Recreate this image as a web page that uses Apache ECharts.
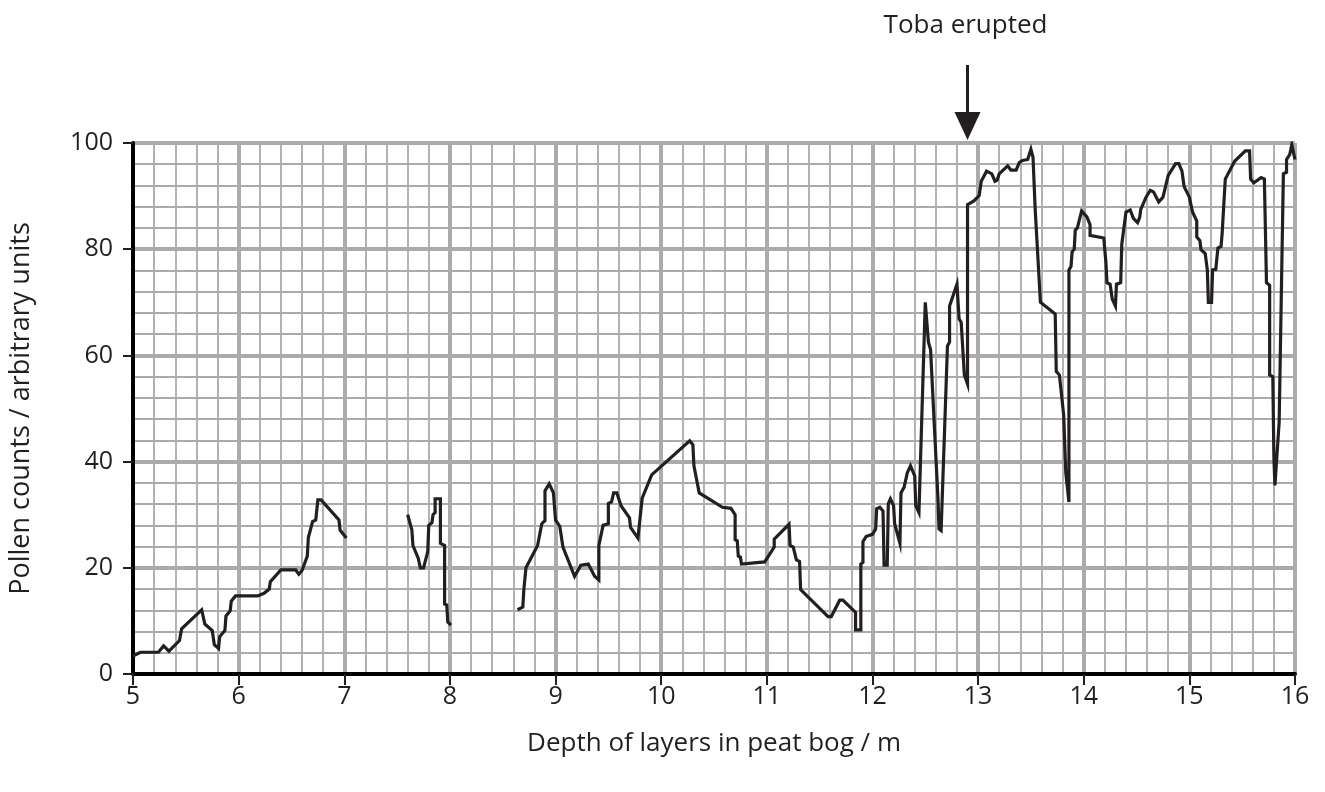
<!DOCTYPE html>
<html>
<head>
<meta charset="utf-8">
<script src="https://cdn.jsdelivr.net/npm/echarts@6/dist/echarts.min.js"></script>
<style>html,body{margin:0;padding:0;background:#fff}#c{width:1325px;height:792px}</style>
</head>
<body>
<div id="c"></div>
<script>
// Depth of layers (m); null marks a gap in the record
const depth = [
5.00,5.07,5.24,5.29,5.34,5.44,5.46,5.65,5.68,5.75,5.77,5.81,5.82,5.87,5.88,5.92,5.93,5.97,6.18,6.24,6.29,6.30,6.40,6.54,6.57,6.60,6.65,6.66,6.70,6.73,6.75,6.78,6.95,6.96,7.02,
null,
7.60,7.64,7.65,7.70,7.72,7.75,7.79,7.80,7.83,7.84,7.86,7.86,7.91,7.91,7.95,7.95,7.97,7.98,8.01,
null,
8.64,8.69,8.70,8.71,8.72,8.83,8.87,8.90,8.90,8.94,8.98,9.00,9.04,9.07,9.18,9.24,9.31,9.37,9.41,9.41,9.45,9.50,9.50,9.53,9.55,9.58,9.62,9.70,9.71,9.78,9.82,9.91,10.27,10.30,10.31,10.36,10.58,10.66,10.70,10.70,10.72,10.73,10.75,10.76,10.98,11.07,11.07,11.21,11.22,11.25,11.28,11.31,11.32,11.58,11.61,11.69,11.72,11.84,11.84,11.89,11.89,11.91,11.91,11.94,12.00,12.03,12.04,12.07,12.10,12.11,12.14,12.15,12.17,12.20,12.21,12.26,12.27,12.30,12.33,12.36,12.40,12.41,12.44,12.50,12.53,12.55,12.62,12.63,12.65,12.71,12.73,12.73,12.80,12.82,12.84,12.87,12.90,12.90,12.96,13.01,13.03,13.08,13.13,13.16,13.18,13.20,13.28,13.31,13.36,13.39,13.42,13.47,13.50,13.52,13.54,13.59,13.73,13.74,13.77,13.81,13.83,13.86,13.86,13.88,13.89,13.91,13.92,13.94,13.98,14.03,14.06,14.06,14.19,14.21,14.22,14.22,14.25,14.27,14.30,14.31,14.35,14.36,14.40,14.44,14.47,14.51,14.53,14.54,14.59,14.63,14.66,14.71,14.75,14.80,14.87,14.90,14.93,14.95,15.00,15.03,15.07,15.07,15.10,15.11,15.15,15.17,15.18,15.21,15.22,15.25,15.27,15.30,15.31,15.34,15.43,15.53,15.57,15.58,15.61,15.68,15.71,15.73,15.76,15.76,15.79,15.80,15.81,15.85,15.89,15.92,15.92,15.95,15.97,16.00
];
// Pollen counts (arbitrary units)
const pollen = [
3.4,4.1,4.1,5.3,4.3,6.3,8.5,12.1,9.4,8.2,5.5,4.8,7.0,8.2,10.9,11.9,13.7,14.7,14.7,15.2,16.0,17.4,19.6,19.6,18.8,19.5,22.2,25.7,28.7,29.0,32.8,32.8,29.0,27.1,25.6,
null,
30.0,27.1,24.2,21.8,20.0,20.0,23.0,28.0,28.5,30.0,30.4,33.0,33.0,24.6,24.2,13.2,13.0,9.8,9.2,
null,
12.1,12.6,15.9,16.2,20.0,24.2,28.3,28.9,34.5,35.8,34.1,29.0,27.8,23.9,18.4,20.5,20.7,18.4,17.7,24.2,28.0,28.3,32.1,32.4,34.1,34.1,31.7,29.4,27.6,25.6,33.1,37.5,43.9,43.2,39.2,34.1,31.4,31.2,30.0,25.3,25.1,22.2,22.0,20.7,21.1,23.9,25.4,28.2,24.2,23.9,21.5,21.2,15.9,10.8,10.8,13.9,13.9,11.6,8.3,8.3,20.7,21.0,24.9,25.9,26.3,27.3,31.1,31.4,30.7,20.5,20.5,32.1,33.0,31.7,28.3,24.6,34.1,35.2,37.9,39.2,37.3,31.7,30.4,70.0,62.5,61.1,33.1,27.3,27.0,61.8,62.5,69.3,73.4,66.9,66.2,56.3,54.6,88.4,89.1,90.1,92.8,94.7,94.2,92.8,93.0,94.2,95.7,94.9,94.9,96.3,96.7,96.9,98.8,97.3,87.7,70.0,67.8,57.0,56.3,48.8,37.9,32.4,76.1,76.8,79.5,80.0,83.6,84.0,87.2,86.1,84.6,82.6,82.1,77.5,77.2,73.7,73.4,70.6,69.3,73.4,73.7,80.9,87.0,87.4,85.8,85.0,86.0,87.5,89.8,91.1,90.8,88.9,89.8,93.9,96.1,96.1,94.7,91.8,89.8,87.0,85.3,82.3,81.6,79.9,79.2,76.1,70.0,70.0,76.1,76.2,80.2,80.5,82.9,93.2,96.6,98.5,98.5,93.2,92.5,93.5,93.2,73.7,73.2,56.3,56.0,41.0,35.5,47.4,94.2,94.5,96.9,97.8,99.7,96.9
];
const xTicks = [5,6,7,8,9,10,11,12,13,14,15,16];
const yTicks = [0,20,40,60,80,100];
const eventDepth = 12.9;
const eventLabel = 'Toba erupted';

const points = depth.map((d, i) => (d === null ? ['-', '-'] : [d, pollen[i]]));

const chart = echarts.init(document.getElementById('c'));
const FONT = '"Open Sans", "Noto Sans", sans-serif';
chart.setOption({
  animation: false,
  grid: {left: 131, right: 30, top: 143, bottom: 118},
  xAxis: {
    type: 'value', min: xTicks[0], max: xTicks[xTicks.length - 1], interval: 1,
    name: 'Depth of layers in peat bog / m', nameLocation: 'middle', nameGap: 57,
    nameTextStyle: {fontFamily: FONT, fontSize: 26, color: '#231f20'},
    axisLine: {show: true, onZero: false, lineStyle: {color: '#000', width: 4}},
    axisTick: {show: true, length: 11, lineStyle: {color: '#231f20', width: 2}},
    axisLabel: {fontFamily: FONT, fontSize: 25, color: '#231f20', margin: 10},
    splitLine: {show: true, lineStyle: {color: '#ababab', width: 4}},
    minorTick: {show: false, splitNumber: 5},
    minorSplitLine: {show: true, lineStyle: {color: '#ababab', width: 1.8}}
  },
  yAxis: {
    type: 'value', min: yTicks[0], max: yTicks[yTicks.length - 1], interval: 20,
    name: 'Pollen counts / arbitrary units', nameLocation: 'middle', nameGap: 98,
    nameTextStyle: {fontFamily: FONT, fontSize: 27, color: '#231f20'},
    axisLine: {show: true, lineStyle: {color: '#000', width: 4}},
    axisTick: {show: true, length: 10, lineStyle: {color: '#231f20', width: 2}},
    axisLabel: {fontFamily: FONT, fontSize: 25, color: '#231f20', margin: 20},
    splitLine: {show: true, lineStyle: {color: '#ababab', width: 4}},
    minorTick: {show: false, splitNumber: 5},
    minorSplitLine: {show: true, lineStyle: {color: '#ababab', width: 1.8}}
  },
  series: [{
    type: 'line', data: points, showSymbol: false, connectNulls: false,
    lineStyle: {color: '#231f20', width: 3.2, join: 'miter'}, z: 5
  }]
});

// Annotation arrow positioned through the axis scale
const tipPx = chart.convertToPixel({gridIndex: 0}, [eventDepth, 100]);
const arrowX = tipPx[0], plotTop = tipPx[1];
chart.setOption({
  graphic: [
    {type: 'line', shape: {x1: arrowX, y1: plotTop - 78, x2: arrowX, y2: plotTop - 28}, style: {stroke: '#231f20', lineWidth: 3}},
    {type: 'polygon', shape: {points: [[arrowX - 13, plotTop - 31], [arrowX + 13, plotTop - 31], [arrowX, plotTop - 3]]}, style: {fill: '#231f20'}},
    {type: 'text', x: arrowX - 2, y: plotTop - 117, style: {text: eventLabel, fontFamily: FONT, fontSize: 26, fill: '#231f20', align: 'center', verticalAlign: 'middle'}}
  ]
});
</script>
</body>
</html>
